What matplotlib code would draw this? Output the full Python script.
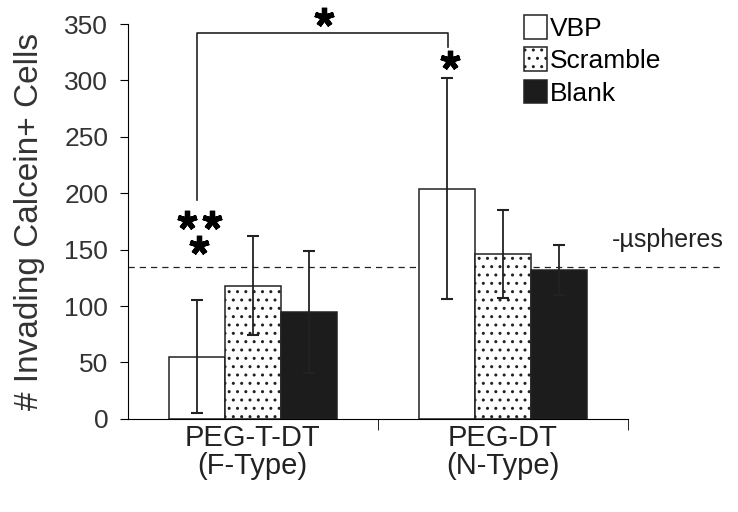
import matplotlib
matplotlib.use('Agg')
import matplotlib.pyplot as plt
import numpy as np

plt.rcParams['font.family'] = ['Liberation Sans', 'DejaVu Sans']
plt.rcParams['hatch.linewidth'] = 1.0

# data
groups = ['PEG-T-DT\n(F-Type)', 'PEG-DT\n(N-Type)']
series = ['VBP', 'Scramble', 'Blank']
vbp = [55, 204]
vbp_err = [50, 98]
scramble = [118, 146]
scramble_err = [44, 39]
blank = [95, 132]
blank_err = [54, 22]
no_spheres = 135  # -uspheres control level

# significance stars (x in group units, y in cell counts)
star_x = [0.784, 1.288, 0.236, 0.336, 0.284]
star_y = [356, 318, 176, 176, 154]

fig = plt.figure(figsize=(7.38, 5.12), dpi=100)
ax = fig.add_axes([0.173, 0.182, 0.678, 0.771])

x = np.array([0.5, 1.5])
w = 0.224
ink = '#222222'

b1 = ax.bar(x - w, vbp, w, color='white', edgecolor=ink, lw=1.1, label=series[0], zorder=2)
b2 = ax.bar(x, scramble, w, color='white', edgecolor=ink, lw=1.1, hatch='..', label=series[1], zorder=2)
b3 = ax.bar(x + w, blank, w, color='#1c1c1c', edgecolor=ink, lw=1.1, label=series[2], zorder=2)

for off, vals, errs in [(-w, vbp, vbp_err), (0, scramble, scramble_err), (w, blank, blank_err)]:
    ax.errorbar(x + off, vals, yerr=errs, fmt='none', ecolor=ink, elinewidth=1.3,
                capsize=4.5, capthick=1.5, zorder=3)

# control level
ax.axhline(no_spheres, color=ink, ls=(0, (5, 4)), lw=0.9, xmin=0, xmax=1.184, clip_on=False, zorder=1)
ax.text(1.936, 148, '-\u00b5spheres', fontsize=18, color=ink, va='bottom', ha='left')

# significance bracket
ax.plot([0.276, 0.276, 1.28, 1.28], [194, 342, 342, 330], color=ink, lw=1.2, clip_on=False)
ax.plot(star_x, star_y, ls='none', marker=(5, 2, 0), ms=14, mew=3.8, color='black', clip_on=False)

ax.set_xlim(0, 2)
ax.set_ylim(0, 350)
ax.set_yticks(range(0, 351, 50))
ax.set_xticks(x)
ax.set_xticklabels(groups, fontsize=21, color=ink, linespacing=1.0)
ax.tick_params(axis='x', length=0, pad=4)
ax.set_xticks([1, 2], minor=True)
ax.tick_params(axis='x', which='minor', length=8, direction='out')
ax.tick_params(axis='y', labelsize=19, labelcolor='#333333', length=6, direction='out', pad=8)
ax.set_ylabel('# Invading Calcein+ Cells', fontsize=24, color='#333333', labelpad=14)
ax.spines['top'].set_visible(False)
ax.spines['right'].set_visible(False)

ax.legend(handles=[b1, b2, b3], loc='upper left', bbox_to_anchor=(0.77, 1.05),
          frameon=False, fontsize=19, handlelength=0.9, handleheight=1.0,
          handletextpad=0.1, labelspacing=0.25, borderaxespad=0)

fig.savefig('out.png', dpi=100)
